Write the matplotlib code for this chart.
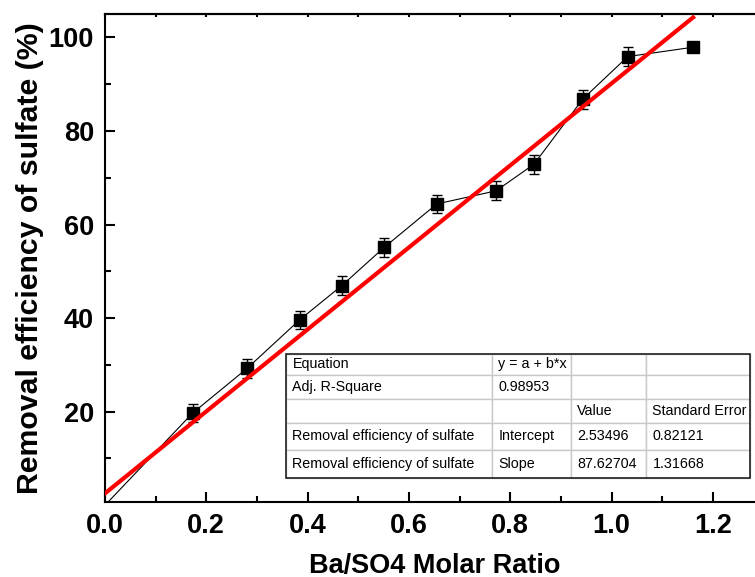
import numpy as np
import matplotlib
matplotlib.use("Agg")
import matplotlib.pyplot as plt
from matplotlib.ticker import MultipleLocator
from matplotlib.patches import Rectangle

# Data
ratio = [0.173, 0.281, 0.384, 0.467, 0.551, 0.655, 0.772, 0.847, 0.943, 1.032, 1.161]
removal = [19.7, 29.3, 39.6, 46.9, 55.1, 64.4, 67.2, 72.9, 86.8, 95.9, 97.9]
removal_err = [2.0, 2.0, 2.0, 2.0, 2.0, 2.0, 2.0, 2.0, 2.0, 2.0, 0.0]

# Linear fit results shown in the table
intercept = 2.53496
slope = 87.62704
intercept_err = 0.82121
slope_err = 1.31668
adj_r2 = 0.98953

table_rows = [
    ["Equation", "y = a + b*x", "", ""],
    ["Adj. R-Square", f"{adj_r2:.5f}", "", ""],
    ["", "", "Value", "Standard Error"],
    ["Removal efficiency of sulfate", "Intercept", f"{intercept:.5f}", f"{intercept_err:.5f}"],
    ["Removal efficiency of sulfate", "Slope", f"{slope:.5f}", f"{slope_err:.5f}"],
]
col_px = [205.7, 79, 75.3, 104]
row_px = [21, 24.3, 23.4, 27.3, 28]

plt.rcParams['font.family'] = ['Liberation Sans', 'DejaVu Sans']

fig = plt.figure(figsize=(7.55, 5.77), dpi=100)
ax = fig.add_axes([105 / 755, 75.5 / 577, 658.5 / 755, 487.5 / 577])

# connecting line starts at the origin
ax.plot([0] + ratio, [0] + removal, color='black', lw=0.8, zorder=2)
ax.errorbar(ratio, removal, yerr=removal_err, fmt='s', color='black', ms=8,
            ecolor='black', elinewidth=1, capsize=3.6, capthick=1, zorder=3)

fit_x = np.array([0, max(ratio)])
ax.plot(fit_x, intercept + slope * fit_x, color='#ff0000', lw=3, zorder=4)

ax.set_xlim(0, 1.3)
ax.set_ylim(0.8, 105)
ax.xaxis.set_minor_locator(MultipleLocator(0.1))
ax.yaxis.set_minor_locator(MultipleLocator(10))
ax.set_xticks(np.arange(0, 1.3, 0.2))
ax.set_xticklabels([f"{v:.1f}" for v in np.arange(0, 1.3, 0.2)])
ax.set_yticks([20, 40, 60, 80, 100])

ax.tick_params(which='both', direction='in', width=1.5, labelsize=19.5, pad=8)
ax.tick_params(which='major', length=7.5)
ax.tick_params(which='minor', length=4.3)
for lab in ax.get_xticklabels() + ax.get_yticklabels():
    lab.set_fontweight('bold')
for sp in ax.spines.values():
    sp.set_linewidth(1.5)

top = ax.secondary_xaxis('top')
top.xaxis.set_major_locator(MultipleLocator(0.1))
top.tick_params(direction='in', length=2.5, width=1.5, labeltop=False)
top.spines['top'].set_linewidth(1.5)

ax.set_xlabel("Ba/SO4 Molar Ratio", fontsize=19.5, fontweight='bold', labelpad=10)
ax.set_ylabel("Removal efficiency of sulfate (%)", fontsize=21.8, fontweight='bold', labelpad=3)

# fit result table
tl = (286 - 105) / 658.5
tb = (501.5 - 478) / 487.5
tw = sum(col_px) / 658.5
th = sum(row_px) / 487.5
tab = ax.table(cellText=table_rows, cellLoc='left', bbox=[tl, tb, tw, th], zorder=6)
tab.auto_set_font_size(False)
tab.set_fontsize(10.3)
for (r, c), cell in tab.get_celld().items():
    cell.set_width(col_px[c])
    cell.set_height(row_px[r])
    cell.set_edgecolor('#c8c8c8')
    cell.set_linewidth(1)
    cell.set_facecolor('white')
    cell.PAD = 6.5 / col_px[c]
ax.add_patch(Rectangle((tl, tb), tw, th, transform=ax.transAxes, fill=False,
                       edgecolor='#222222', lw=1.2, zorder=7))

fig.savefig("out.png", dpi=100)
